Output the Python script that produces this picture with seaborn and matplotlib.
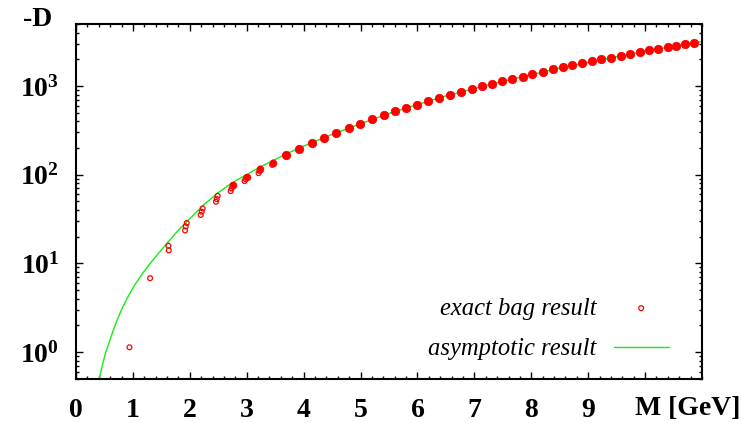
import numpy as np
import pandas as pd
import matplotlib
matplotlib.use("Agg")
import matplotlib.pyplot as plt
import matplotlib.ticker as mticker
import seaborn as sns

# ---- data ----
M_exact = [0.940, 1.302, 1.623, 1.630, 1.946, 1.928, 1.916, 2.226, 2.209, 2.191,
           2.489, 2.472, 2.459, 2.752, 2.734, 2.717, 2.997, 2.980, 2.962,
           3.236, 3.225, 3.208, 3.464, 3.446,
           3.686, 3.919, 4.142, 4.365, 4.575, 4.790, 4.996, 5.199, 5.404, 5.602,
           5.802, 5.995, 6.193, 6.373, 6.573, 6.759, 6.959, 7.134, 7.309, 7.485,
           7.670, 7.846, 8.021, 8.209, 8.384, 8.554, 8.722, 8.897, 9.062, 9.231,
           9.406, 9.571, 9.739, 9.904, 10.067, 10.230, 10.394, 10.545, 10.710, 10.861]
D_exact = [1.13, 6.8, 15.8, 14.0, 28.5, 26.1, 23.5, 41.6, 38.2, 35.1,
           57.8, 53.1, 49.5, 76.4, 69.9, 65.3, 94, 89, 84.7,
           117, 110, 104, 137, 129,
           166, 196, 227, 261, 297, 335, 375, 419, 465, 516,
           563, 618, 676, 731, 796, 860, 923, 987, 1050, 1124,
           1206, 1270, 1349, 1435, 1535, 1617, 1703, 1794, 1889, 1990,
           2080, 2190, 2290, 2387, 2513, 2607, 2717, 2840, 2938, 3069]
# clusters that look solid (many overlapping states) in the reference
dense = [False] * 13 + [True, False, False, True, False, False, True, False, False,
                        True, False] + [True] * 40

M_asym = [0.414, 0.438, 0.473, 0.519, 0.578, 0.648, 0.724, 0.812, 0.917, 1.034,
          1.162, 1.308, 1.454, 1.630, 1.805, 1.951, 2.226, 2.489, 2.752, 2.997,
          3.236, 3.464, 3.7, 4.0, 4.5, 5.0, 5.5, 6.0, 6.5, 7.0, 7.5, 8.0, 8.5,
          9.0, 9.5, 10.0, 10.5, 11.0]
D_asym = [0.509, 0.604, 0.751, 0.975, 1.26, 1.71, 2.31, 3.13, 4.24, 5.74,
          7.57, 10.07, 13.06, 17.7, 23.9, 29.7, 44.6, 62.0, 81.7, 99.8,
          122, 144.5, 172, 210, 284, 375, 490, 618, 772, 938, 1130, 1340, 1590,
          1853, 2140, 2460, 2800, 3180]

x_ticks = [0, 1, 2, 3, 4, 5, 6, 7, 8, 9]
y_ticks = [1, 10, 100, 1000]
y_tick_labels = [r"$\mathbf{10^{0}}$", r"$\mathbf{10^{1}}$", r"$\mathbf{10^{2}}$", r"$\mathbf{10^{3}}$"]

exact = pd.DataFrame({"M": M_exact, "D": D_exact, "dense": dense})
asym = pd.DataFrame({"M": M_asym, "D": D_asym})

sns.set_theme(style="ticks")
plt.rcParams["font.family"] = ["Liberation Serif", "DejaVu Serif"]
plt.rcParams["mathtext.fontset"] = "custom"
plt.rcParams["mathtext.rm"] = "Liberation Serif"
plt.rcParams["mathtext.bf"] = "Liberation Serif:bold"
plt.rcParams["mathtext.it"] = "Liberation Serif:italic"
for k in ["text.color", "axes.labelcolor", "xtick.color", "ytick.color",
          "axes.edgecolor", "xtick.labelcolor", "ytick.labelcolor"]:
    plt.rcParams[k] = "black"

fig = plt.figure(figsize=(7.43, 4.23), dpi=100)
ax = fig.add_axes([76 / 743, 1 - 378.7 / 423, (702 - 76) / 743, (378.7 - 24) / 423])

RED = "#ff0000"
GREEN = "#11ee11"

sns.lineplot(data=asym, x="M", y="D", ax=ax, color=GREEN, lw=1.0,
             label="asymptotic result", sort=True, estimator=None, zorder=2)

sns.scatterplot(data=exact, x="M", y="D", ax=ax, marker="o", s=12,
                facecolor="none", edgecolor=RED, linewidth=0.9,
                label="exact bag result", zorder=3)
low_dense = exact[exact["dense"] & (exact["M"] < 3.6)]
high = exact[exact["M"] >= 3.6]
sns.scatterplot(data=low_dense, x="M", y="D", ax=ax, marker="o", s=24,
                color=RED, edgecolor=RED, linewidth=0.5, legend=False, zorder=3)
sns.scatterplot(data=high, x="M", y="D", ax=ax, marker="o", s=36,
                color=RED, edgecolor=RED, linewidth=0.6, legend=False, zorder=3)

ax.set_yscale("log")
ax.set_xlim(0, 11)
ax.set_ylim(0.5, 5000)

ax.set_xticks(x_ticks + [10])
ax.set_xticklabels([str(t) for t in x_ticks] + [""], fontsize=20, fontweight="bold")
ax.xaxis.set_minor_locator(mticker.MultipleLocator(0.2))
ax.set_yticks(y_ticks)
ax.set_yticklabels(y_tick_labels, fontsize=20)
ax.yaxis.set_minor_locator(mticker.LogLocator(base=10, subs=np.arange(2, 10)))
ax.yaxis.set_minor_formatter(mticker.NullFormatter())

ax.tick_params(which="both", direction="in", top=True, right=True, width=1.0, color="black")
ax.tick_params(which="major", length=5)
ax.tick_params(which="minor", length=2.5)
ax.tick_params(axis="x", which="major", pad=14)
ax.tick_params(axis="y", which="major", pad=12)
for sp in ax.spines.values():
    sp.set_linewidth(1.5)
    sp.set_color("black")

ax.set_xlabel("")
ax.set_ylabel("")

fig.text(38 / 743, 1 - 20 / 423, "-D", fontsize=20, fontweight="bold",
         ha="center", va="center")
fig.text(635 / 743, 1 - 408 / 423, "M [GeV]", fontsize=20, fontweight="bold",
         ha="left", va="center")

handles, labels = ax.get_legend_handles_labels()
order = [labels.index("exact bag result"), labels.index("asymptotic result")]
leg = ax.legend([handles[i] for i in order], [labels[i] for i in order],
                loc="lower right", bbox_to_anchor=(0.947, 0.052),
                frameon=False, markerfirst=False,
                prop={"family": "Liberation Serif", "style": "italic", "size": 17.7},
                handlelength=2.25, handletextpad=0.7, labelspacing=0.75,
                borderpad=0, borderaxespad=0)

fig.savefig("out.png", dpi=100)
